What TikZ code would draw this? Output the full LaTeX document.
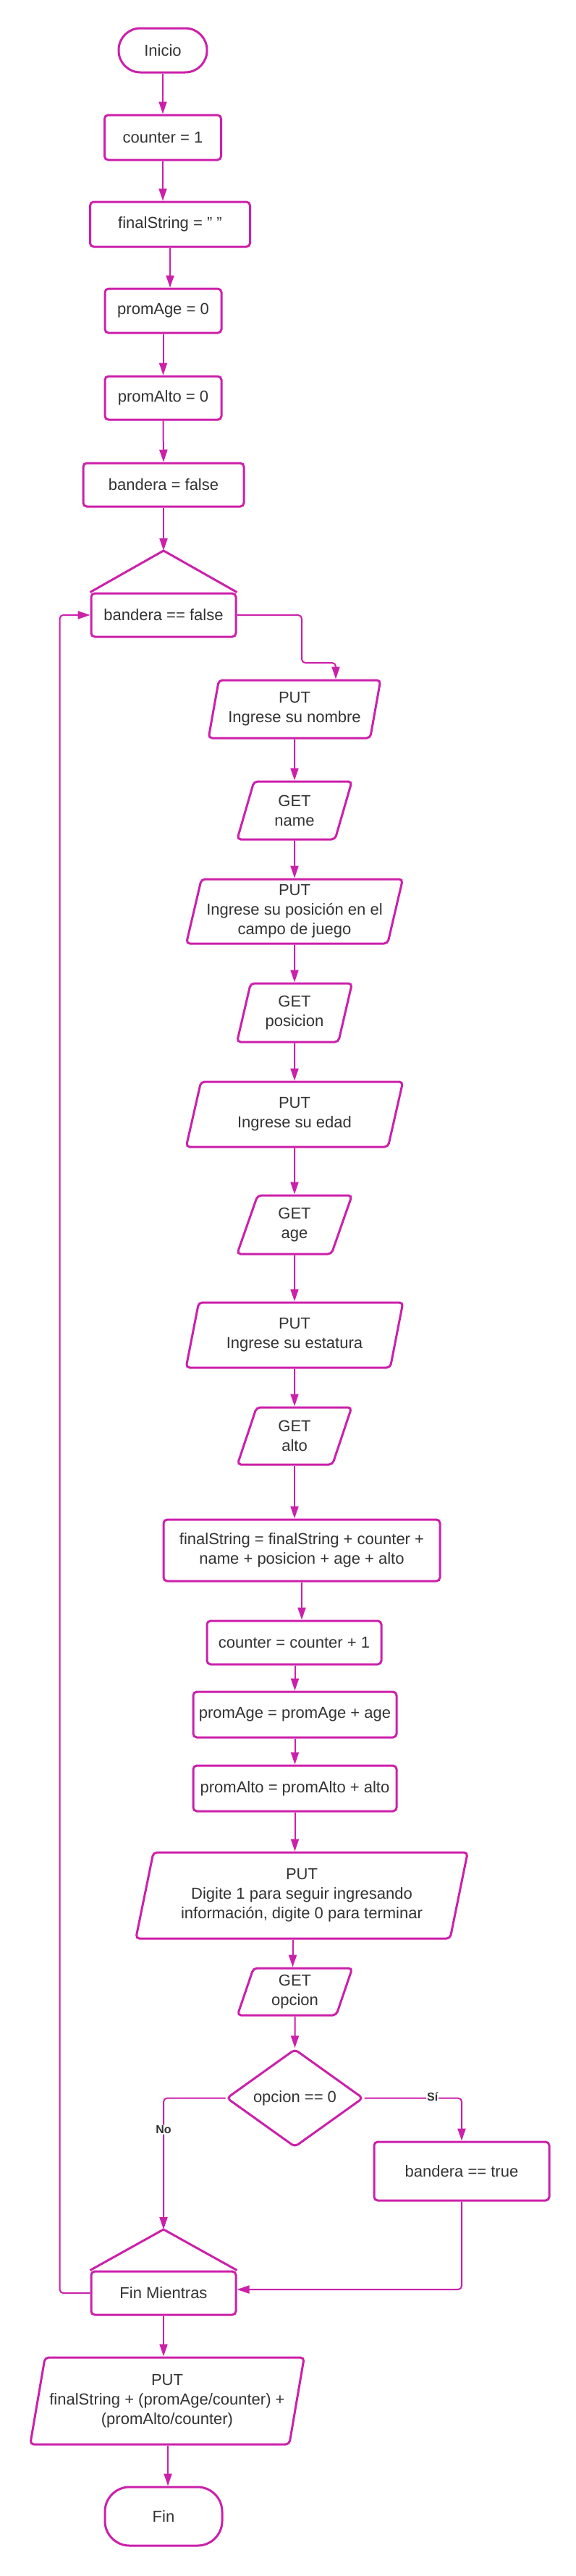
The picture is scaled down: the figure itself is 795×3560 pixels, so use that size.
\documentclass[tikz,border=0pt]{standalone}
\usepackage{fontspec}
\setmainfont{Liberation Sans}
\usetikzlibrary{shapes.geometric,arrows.meta}
\definecolor{mag}{RGB}{204,32,170}
\definecolor{txt}{RGB}{51,51,51}
\tikzset{
  base/.style={draw=mag, line width=3pt, fill=white, text=txt, align=center,
    inner sep=0pt, rounded corners=5pt, font=\fontsize{22}{27}\selectfont},
  box/.style={base, rectangle},
  io/.style={base, trapezium, trapezium left angle=75, trapezium right angle=105,
    trapezium stretches=true},
  term/.style={base, rectangle, rounded corners=30pt},
  dec/.style={base, diamond},
  arr/.style={draw=mag, line width=2pt, rounded corners=5pt,
    -{Triangle[length=17pt,width=11pt]}},
  lbl/.style={fill=white, text=txt, inner sep=1pt,
    font=\fontsize{16}{18}\selectfont\bfseries},
  apexline/.style={draw=mag, line width=3pt, line join=round}
}
\begin{document}
\begin{tikzpicture}[x=1pt,y=-1pt]
\useasboundingbox[fill=white] (0,0) rectangle (795,3560);

\node[term, minimum width=122, minimum height=61] (ini) at (225,69.5) {Inicio};
\node[box, minimum width=161, minimum height=62] (c1) at (225,190) {counter = 1};
\node[box, minimum width=221, minimum height=62] (fs) at (235,310) {finalString = \char"22\ \char"22};
\node[box, minimum width=161, minimum height=61] (pa) at (225.5,429.5) {promAge = 0};
\node[box, minimum width=161, minimum height=60] (pal) at (225.5,550) {promAlto = 0};
\node[box, minimum width=222, minimum height=60] (bf) at (226,670) {bandera = false};

\node[box, minimum width=200, minimum height=60] (mw) at (226,850) {bandera == false};
\coordinate (mwtop) at (226,761);
\draw[apexline] (mw.north west) -- (mwtop) -- (mw.north east);

\node[io, minimum width=238, minimum height=80] (p1) at (407,980) {PUT\\Ingrese su nombre};
\node[io, minimum width=159, minimum height=80] (g1) at (407,1120) {GET\\name};
\node[io, minimum width=300, minimum height=89] (p2) at (407,1259.5) {PUT\\Ingrese su posición en el\\campo de juego};
\node[io, minimum width=159, minimum height=81] (g2) at (407,1399.5) {GET\\posicion};
\node[io, minimum width=300, minimum height=90] (p3) at (407,1540) {PUT\\Ingrese su edad};
\node[io, minimum width=159, minimum height=81] (g3) at (407,1692.5) {GET\\age};
\node[io, minimum width=300, minimum height=90] (p4) at (407,1845) {PUT\\Ingrese su estatura};
\node[io, minimum width=159, minimum height=79] (g4) at (407,1984.5) {GET\\alto};
\node[box, minimum width=382, minimum height=85] (fsb) at (417,2142.5) {finalString = finalString + counter +\\name + posicion + age + alto};
\node[box, minimum width=241, minimum height=60] (cc) at (406.5,2270) {counter = counter + 1};
\node[box, minimum width=281, minimum height=63] (pag) at (407.5,2369.5) {promAge = promAge + age};
\node[box, minimum width=281, minimum height=63] (palt) at (407.5,2471.5) {promAlto = promAlto + alto};
\node[io, minimum width=460, minimum height=119] (p5) at (417,2619.5) {PUT\\Digite 1 para seguir ingresando\\información, digite 0 para terminar};
\node[io, minimum width=159, minimum height=65] (g5) at (407.5,2752.5) {GET\\opcion};
\node[dec, minimum width=189, minimum height=117] (d) at (407.5,2899.5) {opcion == 0};
\node[box, minimum width=242, minimum height=81] (bt) at (638,3000.5) {bandera == true};

\node[box, minimum width=200, minimum height=60] (fm) at (226,3169) {Fin Mientras};
\coordinate (fmtop) at (226,3081);
\draw[apexline] (fm.north west) -- (fmtop) -- (fm.north east);

\node[io, minimum width=380, minimum height=120] (p6) at (231,3318) {PUT\\finalString + (promAge/counter) +\\(promAlto/counter)};
\node[term, rounded corners=34pt, minimum width=162, minimum height=81] (fin) at (226,3477.5) {Fin};

% connectors
\draw[arr] (ini.south) -- (c1.north);
\draw[arr] (c1.south) -- (c1.south |- fs.north);
\draw[arr] (fs.south) -- (fs.south |- pa.north);
\draw[arr] (pa.south) -- (pal.north);
\draw[arr] (pal.south) -- (bf.north);
\draw[arr] (bf.south) -- (mwtop);
\coordinate (j1) at (417,916);
\draw[arr] (mw.east) -| (j1) -| ([xshift=57pt]p1.north);
\draw[arr] (p1.south) -- (g1.north);
\draw[arr] (g1.south) -- (p2.north);
\draw[arr] (p2.south) -- (g2.north);
\draw[arr] (g2.south) -- (p3.north);
\draw[arr] (p3.south) -- (g3.north);
\draw[arr] (g3.south) -- (p4.north);
\draw[arr] (p4.south) -- (g4.north);
\draw[arr] (g4.south) -- (g4.south |- fsb.north);
\draw[arr] (fsb.south) -- (fsb.south |- cc.north);
\draw[arr] (cc.south -| pag.north) -- (pag.north);
\draw[arr] (pag.south) -- (palt.north);
\draw[arr] (palt.south) -- (palt.south |- p5.north);
\draw[arr] ([xshift=-3pt]g5.north |- p5.south) -- ([xshift=-3pt]g5.north);
\draw[arr] (g5.south) -- (d.north);
\draw[arr] (d.west) -| (fmtop) node[lbl, pos=0.62] {No};
\draw[arr] (d.east) -| (bt.north) node[lbl, pos=0.35, yshift=2pt] {Sí};
\draw[arr] (bt.south) |- ([yshift=5pt]fm.east);
\draw[arr] (fm.west) -- ++(-42,0) |- (mw.west);
\draw[arr] (fm.south) -- (fm.south |- p6.north);
\draw[arr] ([xshift=1pt]p6.south) -- ([xshift=1pt]p6.south |- fin.north);
\end{tikzpicture}
\end{document}
